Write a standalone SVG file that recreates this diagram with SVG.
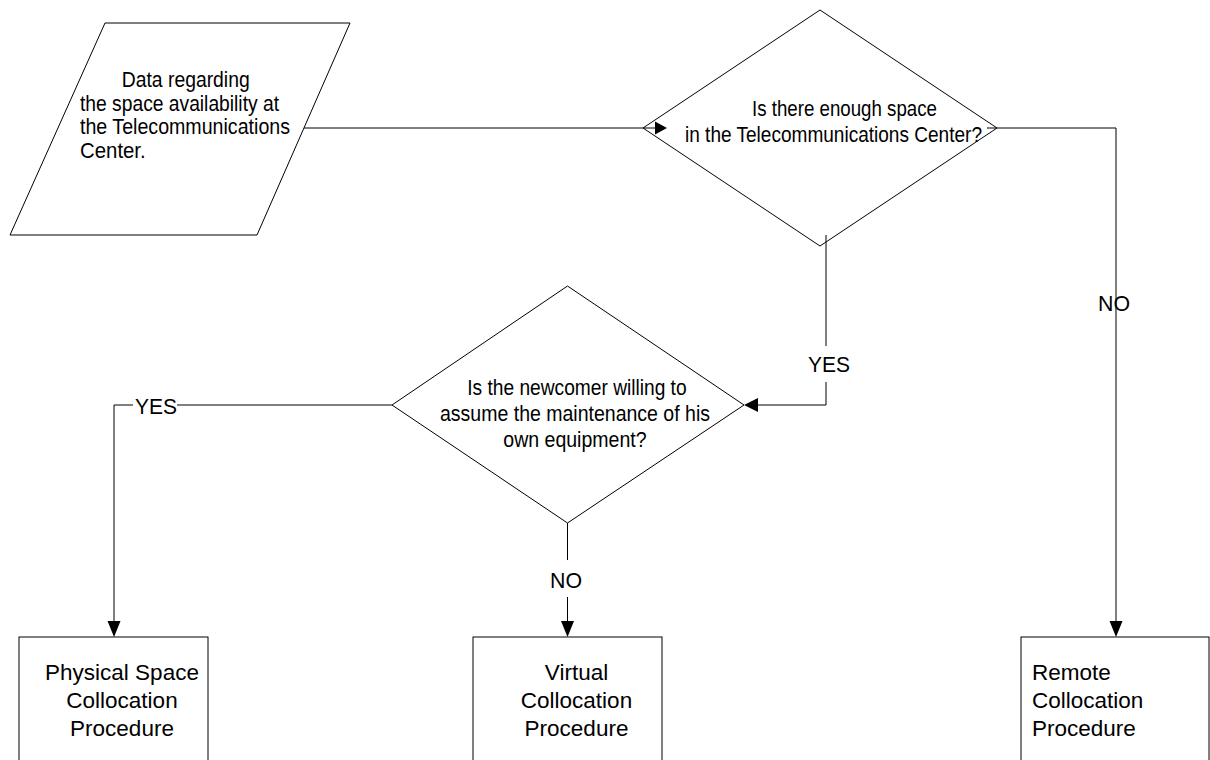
<svg xmlns="http://www.w3.org/2000/svg" width="1210" height="760" viewBox="0 0 1210 760">
<style>
.shape{fill:#fff;stroke:#000;stroke-width:1}
.line{fill:none;stroke:#000;stroke-width:1}
.head{fill:#000;stroke:none}
text{font-family:"Liberation Sans",Arial,sans-serif;font-size:22px;fill:#000}
.c{text-anchor:middle}
.b{font-size:22.5px}
</style>
<rect width="1210" height="760" fill="#fff"/>
<g id="data-input">
<polygon class="shape" points="105,23 350,23 257,235 10,235"/>
<text x="121.7" y="87" textLength="128" lengthAdjust="spacingAndGlyphs">Data regarding</text>
<text x="80" y="110.7" textLength="199" lengthAdjust="spacingAndGlyphs">the space availability at</text>
<text x="80" y="134.4" textLength="210" lengthAdjust="spacingAndGlyphs">the Telecommunications</text>
<text x="80" y="158" textLength="65.7" lengthAdjust="spacingAndGlyphs">Center.</text>
</g>
<g id="decision-space">
<polygon class="shape" points="820,10 997,128 820,246 643,128"/>
<text x="752" y="115.5" textLength="185" lengthAdjust="spacingAndGlyphs">Is there enough space</text>
<text x="685" y="141.5" textLength="297" lengthAdjust="spacingAndGlyphs">in the Telecommunications Center?</text>
</g>
<g id="decision-maintenance">
<polygon class="shape" points="567.5,286 744,405 567.5,523 392,405"/>
<text x="467.3" y="395" textLength="219.3" lengthAdjust="spacingAndGlyphs">Is the newcomer willing to</text>
<text x="440" y="421" textLength="270" lengthAdjust="spacingAndGlyphs">assume the maintenance of his</text>
<text x="503.3" y="447" textLength="143.3" lengthAdjust="spacingAndGlyphs">own equipment?</text>
</g>
<g id="physical">
<rect class="shape" x="19" y="637" width="189" height="200"/>
<text class="c b" x="122" y="680">Physical Space</text>
<text class="c b" x="122" y="708">Collocation</text>
<text class="c b" x="122" y="736">Procedure</text>
</g>
<g id="virtual">
<rect class="shape" x="473" y="637" width="189" height="200"/>
<text class="c b" x="576.5" y="680">Virtual</text>
<text class="c b" x="576.5" y="708">Collocation</text>
<text class="c b" x="576.5" y="736">Procedure</text>
</g>
<g id="remote">
<rect class="shape" x="1021" y="637" width="188" height="200"/>
<text class="b" x="1032" y="680">Remote</text>
<text class="b" x="1032" y="708">Collocation</text>
<text class="b" x="1032" y="736">Procedure</text>
</g>
<g id="connectors">
<path class="line" d="M304,128 H657"/>
<polygon class="head" points="667,128 655,121.5 655,134.5"/>
<path class="line" d="M826,235 V346 M826,382 V405 H758"/>
<polygon class="head" points="744,405 758,398 758,412"/>
<text class="c" x="829" y="372" textLength="42" lengthAdjust="spacingAndGlyphs">YES</text>
<path class="line" d="M392,405 H177 M133,405 H114 V621"/>
<polygon class="head" points="114,637 107.5,621 120.5,621"/>
<text class="c" x="156" y="414" textLength="42" lengthAdjust="spacingAndGlyphs">YES</text>
<path class="line" d="M567.5,523 V560 M567.5,597 V621"/>
<polygon class="head" points="567.5,637 561,621 574,621"/>
<text class="c" x="566" y="588" textLength="32" lengthAdjust="spacingAndGlyphs">NO</text>
<path class="line" d="M987,128 H1116 V621"/>
<polygon class="head" points="1116,637 1109.5,621 1122.5,621"/>
<text class="c" x="1114" y="310.5" textLength="32" lengthAdjust="spacingAndGlyphs">NO</text>
</g>
</svg>
